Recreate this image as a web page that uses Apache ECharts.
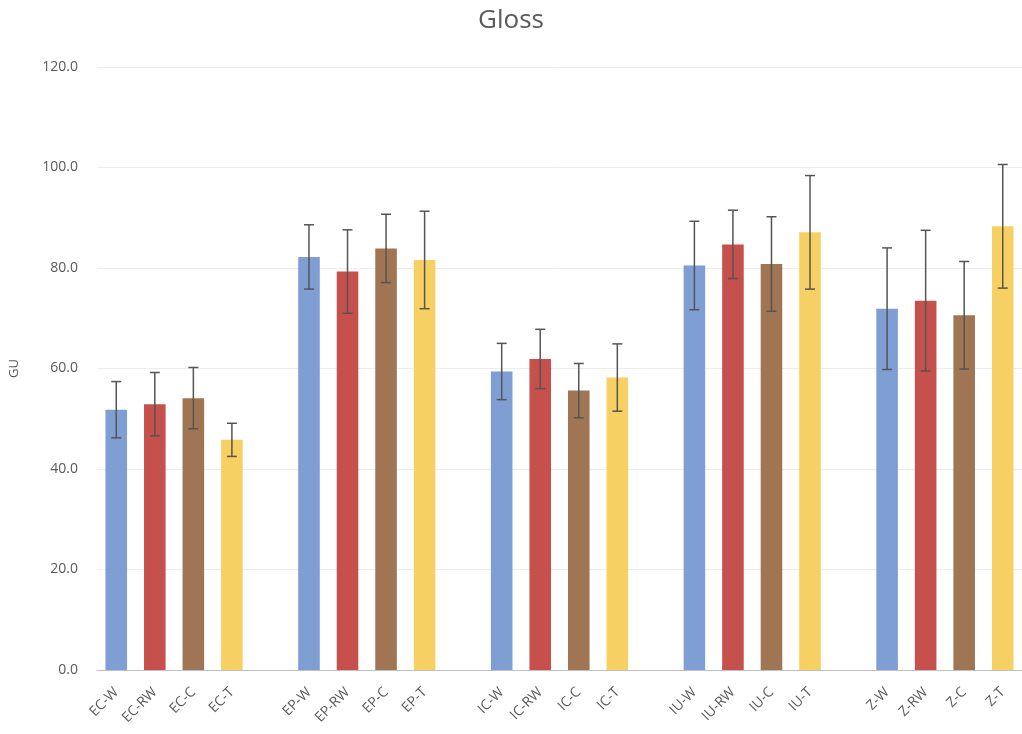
<!DOCTYPE html>
<html>
<head>
<meta charset="utf-8">
<script src="https://cdn.jsdelivr.net/npm/echarts@6/dist/echarts.min.js"></script>
<style>html,body{margin:0;padding:0;background:#fff}#c{width:1022px;height:734px}</style>
</head>
<body>
<div id="c"></div>
<script>
// blank entries ('' / null) are the gaps between sample groups
const categories = ['EC-W','EC-RW','EC-C','EC-T','',
  'EP-W','EP-RW','EP-C','EP-T','',
  'IC-W','IC-RW','IC-C','IC-T','',
  'IU-W','IU-RW','IU-C','IU-T','',
  'Z-W','Z-RW','Z-C','Z-T'];
const means = [51.8,52.9,54.1,45.8,null,
  82.2,79.3,83.9,81.6,null,
  59.4,61.9,55.6,58.2,null,
  80.5,84.7,80.8,87.1,null,
  71.9,73.5,70.6,88.3];
const errors = [5.6,6.3,6.1,3.3,null,
  6.4,8.3,6.8,9.7,null,
  5.6,5.9,5.4,6.7,null,
  8.8,6.8,9.4,11.3,null,
  12.1,14.0,10.7,12.3];
const yTicks = { min: 0, max: 120, interval: 20 };
const colorCycle = ['#7F9ED3','#C5504C','#A07553','#F6D062'];

const barData = [];
const errData = [];
let k = 0;
means.forEach((m, i) => {
  if (m === null) { barData.push(null); return; }
  barData.push({ value: m, itemStyle: { color: colorCycle[k % 4] } });
  k++;
  errData.push([i, m - errors[i], m + errors[i]]);
});

const chart = echarts.init(document.getElementById('c'), null, { renderer: 'canvas' });
const textColor = '#595959';
chart.setOption({
  animation: false,
  title: {
    text: 'Gloss', left: 'center', top: 3,
    textStyle: { fontFamily: 'Open Sans', fontSize: 26, fontWeight: 'normal', color: textColor }
  },
  grid: { left: 96, right: -7, top: 67, bottom: 64 },
  xAxis: {
    type: 'category', data: categories,
    axisLine: { lineStyle: { color: '#BFBFBF', width: 1 } },
    axisTick: { show: false },
    axisLabel: { interval: 0, rotate: 45, color: textColor, fontFamily: 'Open Sans', fontSize: 14, margin: 20 }
  },
  yAxis: {
    type: 'value', min: yTicks.min, max: yTicks.max, interval: yTicks.interval,
    name: 'GU', nameLocation: 'middle', nameGap: 76, nameRotate: 90,
    nameTextStyle: { color: textColor, fontFamily: 'Open Sans', fontSize: 13 },
    axisLine: { show: false }, axisTick: { show: false },
    axisLabel: { color: textColor, fontFamily: 'Open Sans', fontSize: 14, margin: 19,
      formatter: v => v.toFixed(1) },
    splitLine: { lineStyle: { color: '#EDEDED', width: 1 } }
  },
  series: [
    { type: 'bar', data: barData, barWidth: '56%' },
    {
      type: 'custom', data: errData, z: 5,
      renderItem: function (params, api) {
        const x = api.value(0);
        const lo = api.coord([x, api.value(1)]);
        const hi = api.coord([x, api.value(2)]);
        const cap = 5;
        const style = { stroke: '#555555', lineWidth: 1.5 };
        return { type: 'group', children: [
          { type: 'line', shape: { x1: hi[0], y1: hi[1], x2: lo[0], y2: lo[1] }, style },
          { type: 'line', shape: { x1: hi[0]-cap, y1: hi[1], x2: hi[0]+cap, y2: hi[1] }, style },
          { type: 'line', shape: { x1: lo[0]-cap, y1: lo[1], x2: lo[0]+cap, y2: lo[1] }, style }
        ]};
      }
    }
  ]
});
</script>
</body>
</html>
